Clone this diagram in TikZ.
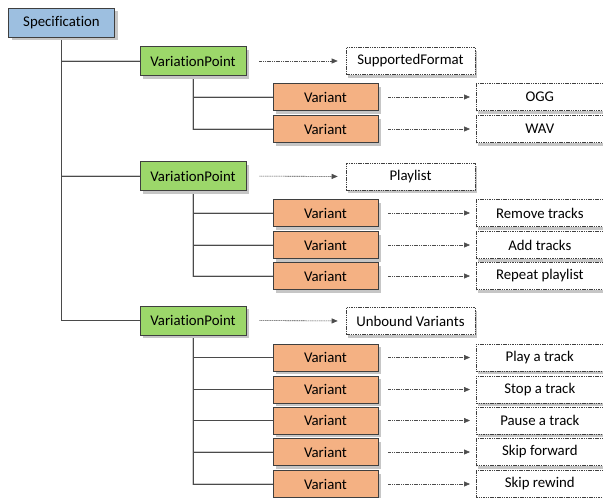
\documentclass[tikz,border=0pt]{standalone}
\usepackage{fontspec}
\setmainfont{Carlito}[Ligatures={NoCommon}]
\usetikzlibrary{shadows,arrows.meta}
\definecolor{specblue}{HTML}{9DBFE0}
\definecolor{vpgreen}{HTML}{9CD76A}
\definecolor{varorange}{HTML}{F4B183}
\definecolor{edge}{HTML}{3F3F3F}
\definecolor{conn}{HTML}{4A4A4A}
\begin{document}
\begin{tikzpicture}[x=1pt,y=-1pt,
  every node/.style={font=\fontsize{14.8}{16}\selectfont, inner sep=0pt, text=black},
  solidbox/.style={draw=edge, line width=0.8pt, drop shadow={shadow xshift=3pt, shadow yshift=-3pt, fill=gray!45, opacity=1}},
  specbox/.style={solidbox, fill=specblue, minimum width=106pt, minimum height=29pt},
  vpbox/.style={solidbox, fill=vpgreen, minimum width=106pt, minimum height=29pt},
  varbox/.style={solidbox, fill=varorange, minimum width=105pt, minimum height=27pt},
  dbox/.style={draw=edge, line width=0.6pt, dash pattern=on 1.5pt off 0.8pt, fill=white, minimum height=27pt,
     drop shadow={shadow xshift=1.5pt, shadow yshift=-3pt, fill=gray!45, opacity=1}},
  infobox/.style={dbox, minimum width=129pt},
  leafbox/.style={dbox, minimum width=134pt},
  tree/.style={draw=conn, line width=0.8pt},
  treeshadow/.style={draw=gray!40, line width=1.4pt},
  darr/.style={draw=gray!60!black, line width=0.6pt, dash pattern=on 1.2pt off 0.6pt, -{Triangle[length=6pt,width=5pt]}, shorten <=10pt, shorten >=6pt},
  varr/.style={darr, shorten <=13pt, shorten >=8pt}
]
\clip (0,0) rectangle (603,498);
\fill[white] (0,0) rectangle (603,498);

% nodes
\node[specbox] (spec) at (61.5,22.5) {Specification};

\node[vpbox] (vp1) at (193,61) {VariationPoint};
\node[vpbox] (vp2) at (193,176) {VariationPoint};
\node[vpbox] (vp3) at (193,320.5) {VariationPoint};

\node[infobox] (i1) at (410.5,61) {SupportedFormat};
\node[infobox] (i2) at (410.5,176.5) {Playlist};
\node[infobox] (i3) at (410.5,321) {Unbound Variants};

\foreach \n/\y in {a/97, b/129, c/213, d/245, e/276, f/357.5, g/389.5, h/420.5, i/452, j/484}{
  \node[varbox] (v\n) at (325.5,\y) {Variant};
}
\foreach \n/\y/\t in {a/97/OGG, b/129/WAV, c/213/Remove tracks, d/245/Add tracks, e/276/Repeat playlist,
  f/357.5/Play a track, g/389.5/Stop a track, h/420.5/Pause a track, i/452/Skip forward, j/484/Skip rewind}{
  \node[leafbox, anchor=west] (t\n) at (476,\y) {\hspace*{-7pt}\t};
}

% tree connectors
\foreach \s/\style in {1.2/treeshadow, 0/tree}{
  \begin{scope}[yshift=-\s pt, xshift=\s pt]
  \path[\style] (spec.south) |- (vp3.west);
  \path[\style] (spec.south |- vp1.west) -- (vp1.west);
  \path[\style] (spec.south |- vp2.west) -- (vp2.west);
  \path[\style] (vp1.south) |- (vb.west);
  \path[\style] (vp1.south |- va.west) -- (va.west);
  \path[\style] (vp2.south) |- (ve.west);
  \path[\style] (vp2.south |- vc.west) -- (vc.west);
  \path[\style] (vp2.south |- vd.west) -- (vd.west);
  \path[\style] (vp3.south) |- (vj.west);
  \path[\style] (vp3.south |- vf.west) -- (vf.west);
  \path[\style] (vp3.south |- vg.west) -- (vg.west);
  \path[\style] (vp3.south |- vh.west) -- (vh.west);
  \path[\style] (vp3.south |- vi.west) -- (vi.west);
  \end{scope}
}
% redraw boxes over line shadows
\node[specbox] at (spec) {Specification};
\foreach \v in {vp1,vp2,vp3}{\node[vpbox] at (\v) {VariationPoint};}
\foreach \n in {a,b,c,d,e,f,g,h,i,j}{\node[varbox] at (v\n) {Variant};}

% dashed arrows
\draw[varr] (vp1.east) -- (i1.west);
\draw[varr] (vp2.east) -- (i2.west);
\draw[varr] (vp3.east) -- (i3.west);
\foreach \n in {a,b,c,d,e,f,g,h,i,j}{
  \draw[darr] (v\n.east) -- (t\n.west);
}
\end{tikzpicture}
\end{document}
